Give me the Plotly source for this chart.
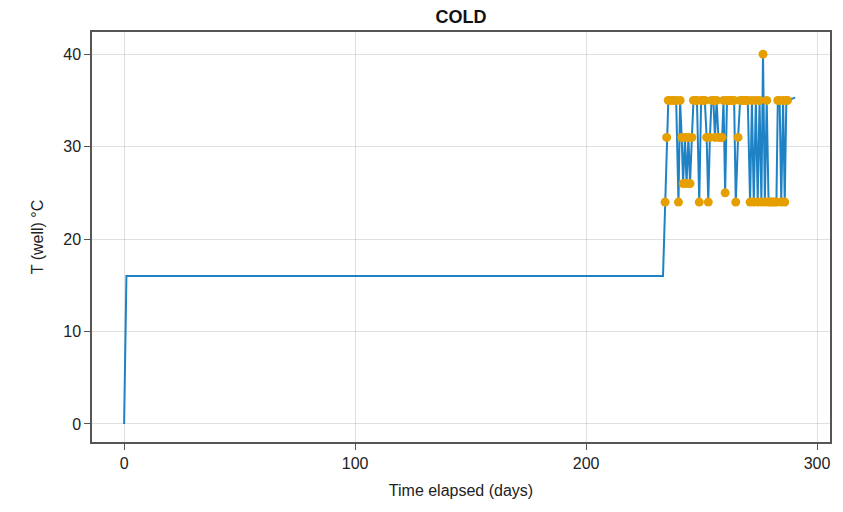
import plotly.graph_objects as go

# Baseline (before measurements)
base_days = [0, 1, 233.3]
base_temp = [0, 16, 16]

# Measured points (orange markers)
meas_days = [234.2, 234.9, 235.6, 236.6, 237.8, 239.0, 240.0, 240.7, 241.4, 242.0,
             242.8, 243.5, 244.3, 245.0, 245.8, 246.5, 247.3, 248.0, 249.0, 249.8,
             250.6, 251.4, 252.2, 252.9, 253.6, 254.3, 255.1, 255.8, 256.5, 257.3,
             258.1, 258.9, 259.5, 260.2, 261.0, 261.8, 262.6, 263.4, 264.1, 264.8,
             265.8, 266.7, 267.6, 268.4, 269.2, 270.0, 271.0, 271.8, 272.6, 273.5,
             274.3, 275.1, 275.9, 276.6, 277.4, 278.2, 279.0, 279.8, 280.6, 281.5,
             282.4, 283.0, 283.8, 284.5, 285.3, 286.0, 286.7, 287.2]
meas_temp = [24, 31, 35, 35, 35, 35, 24, 35, 31, 26,
             31, 26, 31, 26, 31, 35, 35, 35, 24, 35,
             35, 35, 31, 24, 31, 35, 35, 31, 35, 31,
             31, 31, 35, 25, 35, 35, 35, 35, 35, 24,
             31, 35, 35, 35, 35, 35, 24, 35, 24, 35,
             24, 35, 24, 40, 24, 35, 24, 24, 24, 24,
             24, 35, 35, 24, 35, 24, 35, 35]

# Trailing line value
tail_days = [290.5]
tail_temp = [35.3]

x_ticks = [0, 100, 200, 300]
y_ticks = [0, 10, 20, 30, 40]

line_x = base_days + meas_days + tail_days
line_y = base_temp + meas_temp + tail_temp

fig = go.Figure()
fig.add_trace(go.Scatter(x=line_x, y=line_y, mode="lines",
                         line=dict(color="#1f82c4", width=2), showlegend=False))
fig.add_trace(go.Scatter(x=meas_days, y=meas_temp, mode="markers",
                         marker=dict(color="#E69F00", size=9, line=dict(width=0)),
                         showlegend=False))

font = "Liberation Sans, Arial, sans-serif"
fig.update_layout(
    width=843, height=512,
    margin=dict(l=92, r=13, t=32, b=70),
    paper_bgcolor="white", plot_bgcolor="white",
    font=dict(family=font, size=16, color="#222"),
    title=dict(text="<b>COLD</b>", x=0.5, xref="paper", y=0.968, yref="container",
               xanchor="center", yanchor="middle", font=dict(size=18, color="#111")),
)
axis_common = dict(showline=True, linecolor="#555", linewidth=1.5, mirror=True,
                   showgrid=True, gridcolor="rgba(0,0,0,0.12)", gridwidth=1,
                   zeroline=False, ticks="outside", ticklen=6, tickcolor="#555",
                   tickfont=dict(size=16, color="#222"))
fig.update_xaxes(range=[-13.9, 305.6], tickvals=x_ticks,
                 title=dict(text="Time elapsed (days)", font=dict(size=16), standoff=14),
                 **axis_common)
fig.update_yaxes(range=[-1.95, 42.4], tickvals=y_ticks,
                 title=dict(text="T (well) °C", font=dict(size=16), standoff=16),
                 **axis_common)

fig.write_html("out.html")
